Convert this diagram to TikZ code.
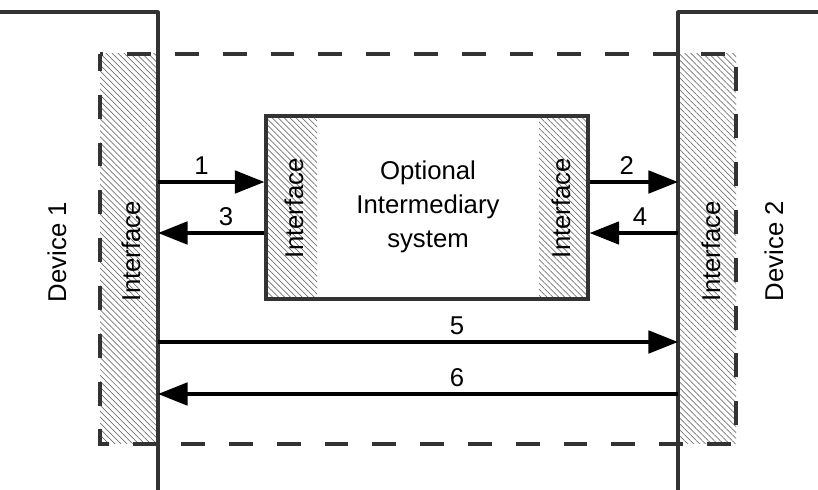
\documentclass[tikz,border=0pt]{standalone}
\usepackage{fontspec}
\setmainfont{Liberation Sans}
\usetikzlibrary{arrows.meta,patterns.meta,fit}
\definecolor{devline}{RGB}{51,51,51}
\definecolor{hatchgray}{RGB}{115,115,115}

\begin{document}
\begin{tikzpicture}[x=0.025cm,y=-0.025cm,
    font=\fontsize{18.3}{24}\selectfont,
    hatch/.style={inner sep=0pt,outer sep=0pt,
      pattern={Lines[angle=-45,distance=3pt,line width=0.5pt]},pattern color=hatchgray},
    flow/.style={line width=2.4pt,-{Triangle[length=21pt,width=16pt]}},
    num/.style={above=4pt,inner sep=0pt}]
        \useasboundingbox (0,0) rectangle (818,490);
        % interface strips of the two devices
        \node[hatch,fit={(100,54) (158,444)}] (if1) {};
        \node[hatch,fit={(678,54) (736,444)}] (if2) {};
        \draw[devline,line width=2.8pt,dash pattern=on 17pt off 17pt,dash phase=5pt] (100,54) rectangle (736,444);
        % intermediary system
        \node[hatch,fit={(266,116) (317,299)}] (mif1) {};
        \node[hatch,fit={(539,116) (588,299)}] (mif2) {};
        \node[draw=devline,line width=2.3pt,inner sep=0pt,fit={(266,116) (588,299)}] (mid) {};
        \node[align=center] (midtext) at (428,207) {Optional\\Intermediary\\system};
        % device boundaries
        \draw[devline,line width=2.2pt,line join=round] (0,12) -| (158,490);
        \draw[devline,line width=2.2pt,line join=round] (818,12) -| (678,490);
        \node[rotate=90] (dev1) at (57,252) {Device 1};
        \node[rotate=90] (dev2) at (774,251) {Device 2};
        \node[rotate=90] (lif1) at (131,251) {Interface};
        \node[rotate=90] (lif2) at (711,251) {Interface};
        \node[rotate=90] (lmif1) at (294,208) {Interface};
        \node[rotate=90] (lmif2) at (561,208) {Interface};
        % flows
        \coordinate (r1) at (0,182);
        \coordinate (r2) at (0,233);
        \coordinate (r3) at (0,342);
        \coordinate (r4) at (0,394);
        \draw[flow] (if1.east |- r1) -- node[num,pos=0.41] {1} (mid.west |- r1);
        \draw[flow] (mid.west |- r2) -- node[num,pos=0.36] {3} (if1.east |- r2);
        \draw[flow] (mid.east |- r1) -- node[num,pos=0.42] {2} (if2.west |- r1);
        \draw[flow] (if2.west |- r2) -- node[num,pos=0.43] {4} (mid.east |- r2);
        \draw[flow] (if1.east |- r3) -- node[num,pos=0.575] {5} (if2.west |- r3);
        \draw[flow] (if2.west |- r4) -- node[num,pos=0.425] {6} (if1.east |- r4);
      \end{tikzpicture}
\end{document}
